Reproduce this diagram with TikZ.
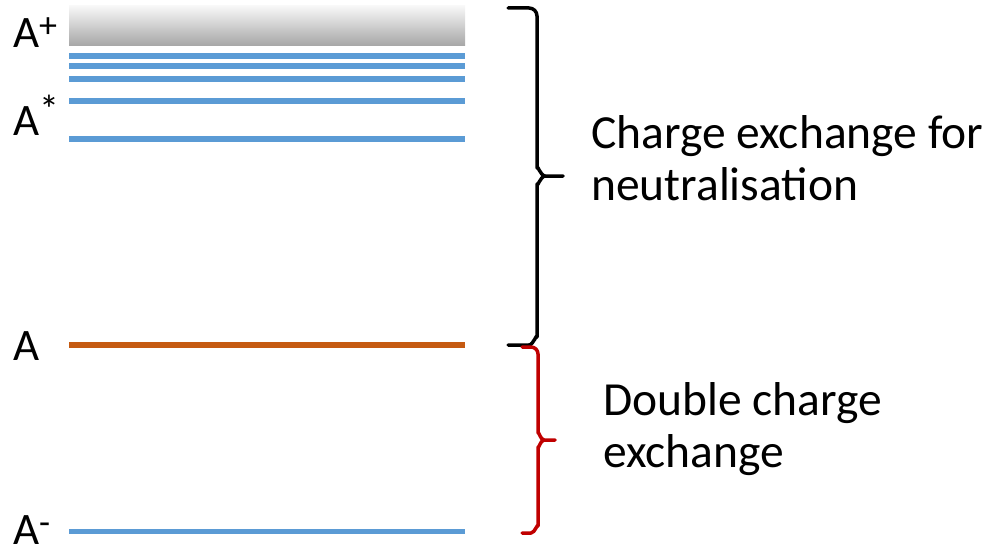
\documentclass[tikz,border=0pt]{standalone}
\usepackage{fontspec}
\setmainfont{Carlito}
\definecolor{levelblue}{HTML}{5B9BD5}
\definecolor{groundorange}{HTML}{C55A11}
\definecolor{bracered}{HTML}{C00000}
\newcommand{\upidx}[3]{\raisebox{#1}{\fontsize{#2}{#2}\selectfont #3}}
\begin{document}
\begin{tikzpicture}[x=1pt,y=-1pt,
        level/.style={levelblue,line width=5.5pt},
        ground/.style={groundorange},
        bracket/.style={line width=3.5pt,line cap=round,line join=round},
        lbl/.style={anchor=base west,inner sep=0pt,font=\fontsize{45}{52}\selectfont},
        note/.style={anchor=base west,inner sep=0pt,align=left,font=\fontsize{47.5}{52}\selectfont}]
        \useasboundingbox (0,0) rectangle (992,551);

        % draw the continuum above the ion level
        \shade[top color=white!97!black,bottom color=black!35] (69,6) rectangle (465,46);

        % draw the excited levels
        \foreach \y in {56,66,79,101,139}
                \draw[level] (69,\y) -- (465,\y);

        % draw the ground level and the negative ion
        \draw[level,ground] (69,345) -- (465,345);
        \draw[level] (69,531.5) -- (465,531.5);

        % the labels of the levels
        \node[lbl] (aplus) at (13,48) {A\upidx{10pt}{36}{+}};
        \node[lbl] (astar) at (13,135) {A\upidx{12pt}{40}{*}};
        \node[lbl] (azero) at (13,360) {A};
        \node[lbl] (aminus) at (13,544) {A\upidx{10pt}{36}{-}};

        % the brace for the neutralisation
        \coordinate (ntop) at (508,8);
        \coordinate (ntip) at (563,176);
        \coordinate (nbot) at (508,345);
        \draw[bracket] (ntop) -- (529,8) to[out=0,in=90] (537,16) -- (537,168)
              to[out=90,in=180] (545,176) -- (ntip)
              (545,176) to[out=180,in=-90] (537,184) -- (537,337)
              to[out=90,in=0] (529,345) -- (nbot);
        \node[note] (neutral) at (591,200) {Charge exchange for\\neutralisation};

        % the brace for the double charge exchange
        \coordinate (dtop) at (522,347);
        \coordinate (dtip) at (555,440);
        \coordinate (dbot) at (522,533);
        \draw[bracket,bracered] (dtop) -- (531,347) to[out=0,in=90] (538,354) -- (538,433)
              to[out=90,in=180] (544,440) -- (dtip)
              (544,440) to[out=180,in=-90] (538,447) -- (538,526)
              to[out=90,in=0] (531,533) -- (dbot);
        \node[note] (double) at (603,467) {Double charge\\exchange};
\end{tikzpicture}
\end{document}
